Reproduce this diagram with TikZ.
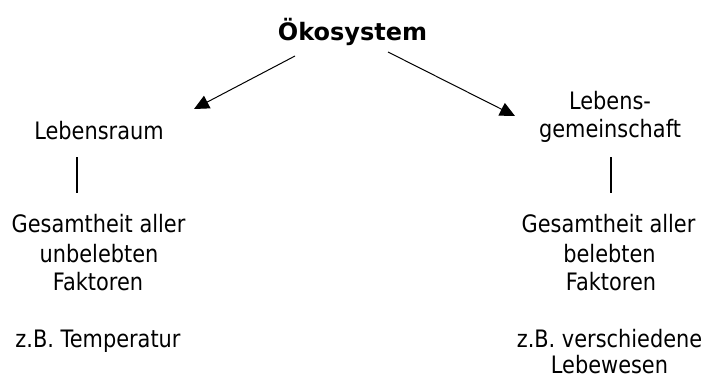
\documentclass[tikz,border=0pt]{standalone}
\usepackage{fontspec}
\setmainfont{DejaVu Sans}[FakeStretch=0.87]
\newfontfamily\titlefont{DejaVu Sans}
\usetikzlibrary{arrows.meta}
\tikzset{
  txt/.style={anchor=base, inner sep=0pt, font=\fontsize{24}{29}\selectfont},
  ttl/.style={anchor=base, inner sep=0pt, font=\fontsize{24}{29}\selectfont\titlefont\bfseries},
  arr/.style={line width=1pt, -{Triangle[length=15pt,width=14pt]}},
  conn/.style={line width=1.2pt}
}
\begin{document}
\begin{tikzpicture}[x=1pt,y=-1pt]
\useasboundingbox (0,0) rectangle (718,378);
% title
\node[ttl] (eco) at (352.5,40) {Ökosystem};
% left branch
\node[txt] (raum) at (99,139) {Lebensraum};
\node[txt] (lg1) at (98.5,232) {Gesamtheit aller};
\node[txt] (lg2) at (99,262) {unbelebten};
\node[txt] (lg3) at (98,290) {Faktoren};
\node[txt] (lex) at (98,347) {z.B. Temperatur};
% right branch
\node[txt] (gem1) at (610,109) {Lebens-};
\node[txt] (gem2) at (610,137) {gemeinschaft};
\node[txt] (rg1) at (608.5,232) {Gesamtheit aller};
\node[txt] (rg2) at (609.5,262) {belebten};
\node[txt] (rg3) at (611,290) {Faktoren};
\node[txt] (rex1) at (609.5,347) {z.B. verschiedene};
\node[txt] (rex2) at (609.5,373) {Lebewesen};
% arrows
\draw[arr] ([shift={(-57.5,16)}]eco.base) -- ([shift={(95,-30)}]raum.base);
\draw[arr] ([shift={(35.5,12)}]eco.base) -- ([shift={(-95,7)}]gem1.base);
% vertical connectors
\draw[conn] ([shift={(-22,18)}]raum.base) -- ([shift={(-21.5,-39)}]lg1.base);
\draw[conn] ([shift={(1,20)}]gem2.base) -- ([shift={(2.5,-39)}]rg1.base);
\end{tikzpicture}
\end{document}
